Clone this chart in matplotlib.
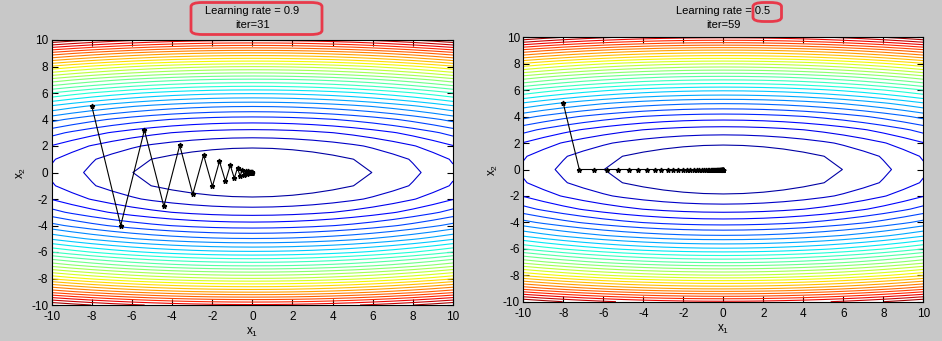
import matplotlib
matplotlib.use("Agg")
import matplotlib.pyplot as plt
import numpy as np
from matplotlib.patches import FancyBboxPatch

plt.rcParams["font.family"] = ["Liberation Sans", "DejaVu Sans"]
plt.rcParams["axes.unicode_minus"] = False  # MATLAB 스타일 하이픈

# 경사하강 경로 (learning rate 0.9, iter=31)
path_09_x = [-8.0, -6.56, -5.38, -4.41, -3.62, -2.97, -2.43, -1.99, -1.64, -1.34,
             -1.10, -0.90, -0.74, -0.61, -0.50, -0.41, -0.33, -0.27, -0.23, -0.18,
             -0.15, -0.12, -0.10, -0.08, -0.07, -0.06, -0.05, -0.04, -0.03, -0.03,
             -0.02, -0.02]
path_09_y = [5.0, -4.0, 3.2, -2.56, 2.05, -1.64, 1.31, -1.05, 0.84, -0.67,
             0.54, -0.43, 0.34, -0.27, 0.22, -0.18, 0.14, -0.11, 0.09, -0.07,
             0.06, -0.05, 0.04, -0.03, 0.02, -0.02, 0.02, -0.01, 0.01, -0.01,
             0.01, -0.01]

# 경사하강 경로 (learning rate 0.5, iter=59)
path_05_x = [-8.0, -7.2, -6.48, -5.83, -5.25, -4.72, -4.25, -3.83, -3.44, -3.10,
             -2.79, -2.51, -2.26, -2.03, -1.83, -1.65, -1.48, -1.33, -1.20, -1.08,
             -0.97, -0.88, -0.79, -0.71, -0.64, -0.57, -0.52, -0.47, -0.42, -0.38,
             -0.34, -0.31, -0.28, -0.25, -0.22, -0.20, -0.18, -0.16, -0.15, -0.13,
             -0.12, -0.11, -0.10, -0.09, -0.08, -0.07, -0.06, -0.06, -0.05, -0.05,
             -0.04, -0.04, -0.03, -0.03, -0.03, -0.02, -0.02, -0.02, -0.02, -0.02]
path_05_y = [5.0, 0.0, 0.0, 0.0, 0.0, 0.0, 0.0, 0.0, 0.0, 0.0,
             0.0, 0.0, 0.0, 0.0, 0.0, 0.0, 0.0, 0.0, 0.0, 0.0,
             0.0, 0.0, 0.0, 0.0, 0.0, 0.0, 0.0, 0.0, 0.0, 0.0,
             0.0, 0.0, 0.0, 0.0, 0.0, 0.0, 0.0, 0.0, 0.0, 0.0,
             0.0, 0.0, 0.0, 0.0, 0.0, 0.0, 0.0, 0.0, 0.0, 0.0,
             0.0, 0.0, 0.0, 0.0, 0.0, 0.0, 0.0, 0.0, 0.0, 0.0]

learning_rates = ["0.9", "0.5"]
iters = [31, 59]
ticks = [-10, -8, -6, -4, -2, 0, 2, 4, 6, 8, 10]

# 목적함수 f = x1^2 + 10*x2^2 (거친 격자)
grid = np.arange(-10, 11, 1.0)
X1, X2 = np.meshgrid(grid, grid)
Z = X1 ** 2 + 10 * X2 ** 2
levels = np.linspace(Z.min(), Z.max(), 32)[1:-1]

fig = plt.figure(figsize=(9.42, 3.41), dpi=100)
fig.patch.set_facecolor("#c8c8c8")

W, H = 942.0, 341.0
boxes = [(51.7, 40.0, 453.0, 305.0), (523.3, 37.3, 923.3, 301.7)]
paths = [(path_09_x, path_09_y), (path_05_x, path_05_y)]

for i, (l, t, r, b) in enumerate(boxes):
    ax = fig.add_axes([l / W, 1 - b / H, (r - l) / W, (b - t) / H])
    ax.set_facecolor("white")
    ax.contour(X1, X2, Z, levels=levels, cmap="jet", vmin=Z.min(), vmax=Z.max(),
               linewidths=0.8)
    px, py = paths[i]
    ax.plot(px, py, color="black", linewidth=0.8, marker="*", markersize=3.5,
            markerfacecolor="black", markeredgecolor="black")
    ax.set_xlim(-10, 10)
    ax.set_ylim(-10, 10)
    ax.set_xticks(ticks)
    ax.set_yticks(ticks)
    ax.tick_params(direction="in", length=4, top=True, right=True, labelsize=8.5)
    ax.tick_params(axis="x", pad=4.5)
    ax.tick_params(axis="y", pad=2.5)
    for sp in ax.spines.values():
        sp.set_linewidth(0.8)
    ax.set_xlabel(r"$\mathregular{x_1}$", fontsize=8.5, labelpad=2)
    ax.set_ylabel(r"$\mathregular{x_2}$", fontsize=8.5, labelpad=2)
    cx = (l + r) / 2 / W
    fig.text(cx, 1 - 10.5 / H, f"Learning rate = {learning_rates[i]}",
             ha="center", va="center", fontsize=8)
    fig.text(cx, 1 - 24.5 / H, f"iter={iters[i]}",
             ha="center", va="center", fontsize=8)

# 빨간 강조 박스
red = "#e8394a"
hl = [(191.0, 2.5, 322.0, 34.5), (753.0, 2.5, 781.5, 21.5)]
for x0, y0, x1, y1 in hl:
    box = FancyBboxPatch((x0 / W, 1 - y1 / H), (x1 - x0) / W, (y1 - y0) / H,
                         boxstyle="round,pad=0,rounding_size=0.012",
                         transform=fig.transFigure, fill=False,
                         edgecolor=red, linewidth=2.0)
    fig.add_artist(box)

fig.savefig("out.png", dpi=100, facecolor=fig.get_facecolor())
